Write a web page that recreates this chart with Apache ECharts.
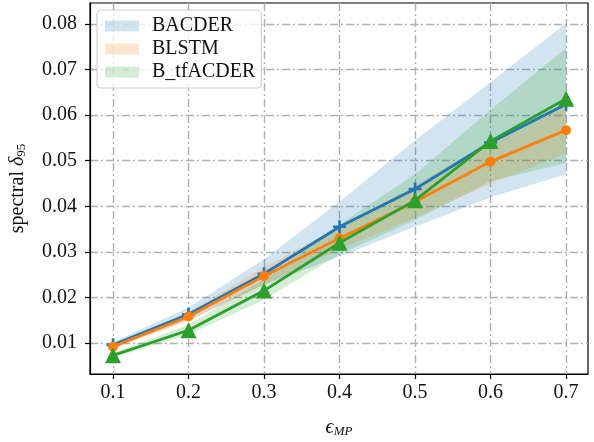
<!DOCTYPE html>
<html>
<head>
<meta charset="utf-8">
<title>spectral delta95</title>
<script src="https://cdn.jsdelivr.net/npm/echarts@6/dist/echarts.min.js"></script>
<style>
  html, body { margin: 0; padding: 0; background: #fff; }
  #main { width: 594px; height: 442px; }
</style>
</head>
<body>
<div id="main"></div>
<script>
// values
var eps = [0.1, 0.2, 0.3, 0.4, 0.5, 0.6, 0.7];
var xTicks = [0.1, 0.2, 0.3, 0.4, 0.5, 0.6, 0.7];
var yTicks = [0.01, 0.02, 0.03, 0.04, 0.05, 0.06, 0.07, 0.08];

var bacder    = [0.0096, 0.0163, 0.0252, 0.0355, 0.0438, 0.0540, 0.0624];
var bacderLo  = [0.0090, 0.0150, 0.0228, 0.0290, 0.0355, 0.0420, 0.0470];
var bacderHi  = [0.0102, 0.0178, 0.0284, 0.0410, 0.0545, 0.0672, 0.0802];

var blstm     = [0.0092, 0.0158, 0.0247, 0.0330, 0.0410, 0.0498, 0.0567];
var blstmLo   = [0.0088, 0.0148, 0.0228, 0.0305, 0.0375, 0.0450, 0.0515];
var blstmHi   = [0.0096, 0.0168, 0.0266, 0.0355, 0.0445, 0.0545, 0.0620];

var btf       = [0.0073, 0.0128, 0.0215, 0.0320, 0.0413, 0.0543, 0.0636];
var btfLo     = [0.0068, 0.0118, 0.0195, 0.0295, 0.0370, 0.0455, 0.0495];
var btfHi     = [0.0078, 0.0140, 0.0240, 0.0360, 0.0470, 0.0612, 0.0747];

var names = ['BACDER', 'BLSTM', 'B_tfACDER'];
var colors = ['#1f77b4', '#ff7f0e', '#2ca02c'];
var bandColors = ['rgba(31,119,180,0.2)', 'rgba(255,127,14,0.2)', 'rgba(44,160,44,0.2)'];

var serif = '"Liberation Serif", "DejaVu Serif", serif';
var gridDash = [8, 3, 2, 3];

function pairs(ys) {
  var out = [];
  for (var i = 0; i < eps.length; i++) out.push([eps[i], ys[i]]);
  return out;
}

var bands = [[bacderLo, bacderHi], [blstmLo, blstmHi], [btfLo, btfHi]];
var lines = [bacder, blstm, btf];
var symbols = [
  'path://M-1,-0.2H-0.2V-1H0.2V-0.2H1V0.2H0.2V1H-0.2V0.2H-1Z',
  'circle',
  'triangle'
];
var symbolSizes = [13, 10, 16];

// fill_between as a polygon built from the lo/hi arrays
function bandSeries(k) {
  var lo = bands[k][0], hi = bands[k][1];
  return {
    name: names[k], type: 'custom', silent: true, z: 1,
    itemStyle: { color: bandColors[k] },
    data: [0],
    renderItem: function (params, api) {
      var pts = [];
      for (var i = 0; i < eps.length; i++) pts.push(api.coord([eps[i], hi[i]]));
      for (var j = eps.length - 1; j >= 0; j--) pts.push(api.coord([eps[j], lo[j]]));
      return {
        type: 'polygon',
        shape: { points: pts },
        style: { fill: bandColors[k] }
      };
    }
  };
}

var series = [];
for (var k = 0; k < 3; k++) series.push(bandSeries(k));
for (var k = 0; k < 3; k++) {
  series.push({
    name: names[k] + ' mean', type: 'line',
    data: pairs(lines[k]),
    symbol: symbols[k], symbolSize: symbolSizes[k],
    lineStyle: { color: colors[k], width: 2.8 },
    itemStyle: { color: colors[k] },
    z: 3 + k
  });
}

var chart = echarts.init(document.getElementById('main'));
chart.setOption({
  animation: false,
  grid: {
    left: 90, right: 6, top: 3, bottom: 68,
    outerBoundsMode: 'none', containLabel: false,
    show: true, borderColor: '#000', borderWidth: 1.2, backgroundColor: 'transparent'
  },
  legend: {
    data: names.map(function (n, i) {
      return { name: n, icon: 'rect', itemStyle: { color: bandColors[i] } };
    }),
    orient: 'vertical', left: 97, top: 10,
    itemWidth: 34, itemHeight: 11, itemGap: 3,
    padding: [6, 6, 6, 8],
    borderColor: '#d0d0d0', borderWidth: 1.2, borderRadius: 4,
    backgroundColor: 'rgba(255,255,255,0.8)',
    textStyle: { fontFamily: serif, fontSize: 20, color: '#111', padding: [0, 0, 0, 8] }
  },
  xAxis: {
    type: 'value', min: 0.0695, max: 0.729,
    name: '{i|ϵ}{sub|MP}', nameLocation: 'middle', nameGap: 43,
    nameTextStyle: {
      rich: {
        i: { fontFamily: serif, fontSize: 20, fontStyle: 'italic', color: '#111' },
        sub: { fontFamily: serif, fontSize: 13, fontStyle: 'italic', color: '#111', verticalAlign: 'bottom', padding: [8, 0, 0, 0] }
      }
    },
    axisLine: { show: true, onZero: false, lineStyle: { color: '#000', width: 1.2 } },
    axisTick: { show: true, length: 5, customValues: xTicks, lineStyle: { color: '#000', width: 1.2 } },
    axisLabel: {
      customValues: xTicks, margin: 9,
      fontFamily: serif, fontSize: 20, color: '#111',
      formatter: function (v) { return v.toFixed(1); }
    },
    splitLine: { show: true, lineStyle: { color: '#b0b0b0', width: 1.4, type: gridDash } }
  },
  yAxis: {
    type: 'value', min: 0.0032, max: 0.0846,
    name: 'spectral {i|δ}{sub|95}', nameLocation: 'middle', nameGap: 62, nameRotate: 90,
    nameTextStyle: {
      fontFamily: serif, fontSize: 20, color: '#111',
      rich: {
        i: { fontFamily: serif, fontSize: 20, fontStyle: 'italic', color: '#111' },
        sub: { fontFamily: serif, fontSize: 13, color: '#111', verticalAlign: 'bottom', padding: [8, 0, 0, 0] }
      }
    },
    axisLine: { show: true, onZero: false, lineStyle: { color: '#000', width: 1.2 } },
    axisTick: { show: true, length: 5, customValues: yTicks, lineStyle: { color: '#000', width: 1.2 } },
    axisLabel: {
      customValues: yTicks, margin: 13,
      fontFamily: serif, fontSize: 20, color: '#111',
      formatter: function (v) { return v.toFixed(2); }
    },
    splitLine: { show: true, lineStyle: { color: '#b0b0b0', width: 1.4, type: gridDash } }
  },
  series: series
});
</script>
</body>
</html>
